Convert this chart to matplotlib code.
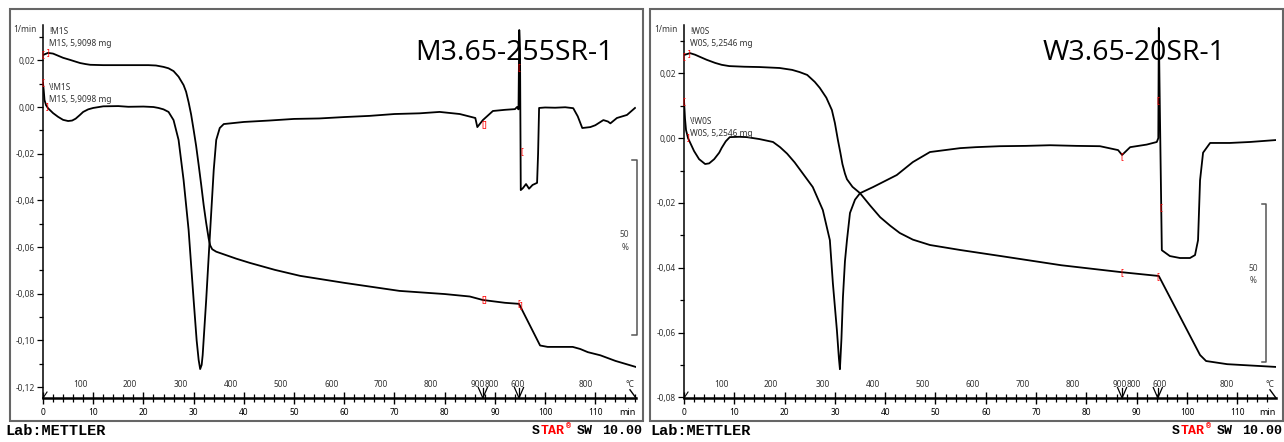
import numpy as np
import matplotlib

matplotlib.use("Agg")
import matplotlib.pyplot as plt
from matplotlib.patches import Rectangle
from matplotlib.ticker import MultipleLocator, FuncFormatter
from matplotlib.transforms import blended_transform_factory

W, H = 1284, 442

# ---------------- left sample: M3.65-255SR-1 ----------------
m_title = "M3.65-255SR-1"
m_name = "M1S"
m_mass = "5,9098 mg"

m_tg_time = [0, 1, 2, 3, 4, 5.4, 6.5, 7.4, 8.5, 9.4, 12, 21, 22.5, 24, 25, 26, 27,
             28, 28.5, 29, 29.5, 30, 30.5, 31, 31.5, 32, 32.5, 33, 33.3, 33.7,
             34.5, 36.3, 38.5, 41.2, 46.2, 51.2, 60, 71, 80, 85, 87.6, 92, 94.8,
             99, 100.5, 105.5, 107, 108.5, 111, 114, 118]
m_tg = [100, 100.6, 100.4, 99.8, 99.2, 98.6, 98.1, 97.7, 97.4, 97.2, 97.1, 97.1,
        97.0, 96.6, 96.2, 95.4, 93.8, 91.4, 89.5, 86.5, 83.0, 78.6, 74.0, 68.6,
        63.0, 57.1, 52.0, 47.5, 45.6, 44.5, 43.8, 42.9, 41.8, 40.6, 38.6, 36.9,
        34.9, 32.6, 31.7, 31.0, 30.0, 29.2, 28.9, 17.0, 16.6, 16.6, 16.0, 15.1,
        14.2, 12.6, 10.9]

m_dtg_time = [0, 0.15, 0.3, 0.6, 1, 2, 3, 4, 5, 5.8, 6.5, 7.3, 8, 9, 10, 12, 15,
              17, 20, 22, 23, 24, 25, 26, 27, 28, 29, 30, 30.6, 31, 31.3, 31.6,
              31.8, 32.5, 33.3, 34, 34.5, 35.2, 36, 40, 45, 50, 55, 60, 65, 70,
              75, 79, 83, 86.1, 86.5, 87.6, 89.6, 92, 94.0, 94.4, 94.7, 94.85,
              95.0, 95.15, 95.6, 96.2, 96.8, 97.5, 98.4, 98.6, 98.8, 100, 102,
              104, 105.6, 106.5, 107.4, 109, 110, 111.6, 112.5, 113, 114.3, 116.3,
              117.9]
m_dtg = [0.0103, 0.007, 0.003, 0.0008, -0.0005, -0.0026, -0.0042, -0.0055, -0.006,
         -0.0058, -0.005, -0.0035, -0.0021, -0.001, -0.0004, 0.0003, 0.0004,
         0.0001, 0.0002, 0.0, -0.0004, -0.001, -0.0021, -0.0056, -0.0141, -0.0313,
         -0.0527, -0.0827, -0.1, -0.1084, -0.1123, -0.1105, -0.1063, -0.0827,
         -0.0527, -0.027, -0.0141, -0.009, -0.0073, -0.0064, -0.0058, -0.0051,
         -0.0049, -0.0043, -0.0038, -0.003, -0.0027, -0.0021, -0.0030, -0.0047,
         -0.0086, -0.0056, -0.0017, -0.0012, -0.0009, 0.0, -0.001, 0.033, 0.025,
         -0.0356, -0.0347, -0.0330, -0.0350, -0.0334, -0.0325, -0.02, -0.0004,
         -0.0002, -0.0003, -0.0001, -0.0005, -0.004, -0.0090, -0.0086, -0.0078,
         -0.0056, -0.0062, -0.0070, -0.0047, -0.0034, -0.0004]

# red evaluation marks (time, value, glyph)
m_tg_marks = [(0, 100, "["), (1, 100.6, "]"), (87.6, 30.0, "["), (88.1, 30.0, "]"),
              (94.8, 28.9, "["), (95.3, 28.5, "]")]
m_dtg_marks = [(0, 0.0103, "["), (0.9, 0.0, "]"), (87.5, -0.0077, "["),
               (88.0, -0.0077, "]"), (94.7, 0.0167, "["), (95.3, -0.0193, "[")]

# ---------------- right sample: W3.65-20SR-1 ----------------
w_title = "W3.65-20SR-1"
w_name = "W0S"
w_mass = "5,2546 mg"

w_tg_time = [0, 1.2, 2.2, 3.2, 4.5, 6.2, 7.5, 9, 12, 15, 19, 21.5, 23, 24.5, 26,
             27, 28.3, 29.4, 30, 30.6, 31.1, 31.5, 32, 32.4, 33.5, 35, 37, 39, 41,
             42.9, 45.5, 48.9, 55, 63, 75, 87, 94.4, 102.6, 103.8, 108, 118]
w_tg = [100, 100.6, 100.1, 99.4, 98.5, 97.5, 96.9, 96.5, 96.3, 96.2, 95.9, 95.3,
        94.6, 93.7, 91.5, 89.6, 86.5, 82.6, 78.5, 73.1, 69.0, 65.5, 62.5, 60.7,
        58.3, 56.3, 52.4, 48.7, 46.0, 43.7, 41.6, 39.9, 38.3, 36.4, 33.5, 31.3,
        30.1, 5.1, 3.2, 2.2, 1.3]

w_dtg_time = [0, 0.2, 0.4, 0.8, 1.4, 2, 3, 4.2, 5, 6, 7, 7.5, 8.3, 9.1, 11, 12.5,
              15, 17.7, 19.1, 20.5, 22, 25.6, 27.6, 29.0, 29.6, 30.4, 30.8, 31.0,
              31.3, 31.6, 32.0, 32.4, 33.0, 34, 35.0, 37.6, 42.3, 45.5, 48.9, 54.9,
              58, 62.8, 68, 72.8, 78, 82.7, 86.3, 87.1, 88.7, 92, 94.0, 94.3, 94.4,
              94.6, 95.0, 96.6, 98.6, 100.6, 101.6, 102.2, 102.6, 103.2, 104.6,
              108.5, 112.5, 117.7]
w_dtg = [0.0117, 0.006, 0.0025, 0.0, -0.002, -0.004, -0.0065, -0.008, -0.0078,
         -0.0065, -0.0045, -0.003, -0.001, 0.0003, 0.0004, 0.0003, -0.0003,
         -0.0012, -0.0028, -0.0048, -0.0075, -0.0151, -0.0222, -0.0315, -0.0448,
         -0.0593, -0.068, -0.0713, -0.062, -0.0491, -0.038, -0.0315, -0.0231,
         -0.019, -0.0170, -0.0151, -0.0114, -0.0074, -0.0043, -0.0031, -0.0028,
         -0.0025, -0.0024, -0.0022, -0.0024, -0.0025, -0.0037, -0.0052, -0.0028,
         -0.0020, -0.0012, 0.0, 0.034, 0.01, -0.0346, -0.0364, -0.037, -0.037,
         -0.0361, -0.0315, -0.013, -0.0045, -0.0015, -0.0015, -0.0012, -0.0006]

w_tg_marks = [(0, 99.5, "["), (1, 100.6, "]"), (87.1, 31.3, "["), (94.2, 30.0, "[")]
w_dtg_marks = [(0, 0.0114, "["), (0.8, 0.0, "]"), (87.1, -0.0056, "["),
               (94.2, 0.0117, "["), (94.8, -0.0213, "[")]

# temperature labels along the time axis
temp_time = [7.4, 17.3, 27.5, 37.5, 47.4, 57.4, 67.3, 77.3, 86.6, 89.4, 94.5, 108.0]
temp_text = ["100", "200", "300", "400", "500", "600", "700", "800", "900", "800",
             "600", "800"]
min_ticks = list(range(0, 111, 10))

plt.rcParams["font.family"] = ["Noto Sans", "DejaVu Sans"]
fig = plt.figure(figsize=(W / 100, H / 100), dpi=100)


def fx(px):
    return px / W


def fy(py):
    return 1 - py / H


def comma_fmt(v, _pos):
    v = round(v, 4)
    if abs(v) < 1e-9:
        v = 0.0
    return f"{v:.2f}".replace(".", ",")


def draw_panel(left, right, xmax, ylim, tg_lim, tg_t, tg, dtg_t, dtg, tg_marks,
               dtg_marks, seg_times, bracket, name, mass, label_y, title, title_x):
    top, bot = 25, 398
    ax = fig.add_axes([fx(left), fy(bot), (right - left) / W, (bot - top) / H])
    ax.set_xlim(0, xmax)
    ax.set_ylim(*ylim)
    ax.patch.set_alpha(0)
    for s in ("top", "right"):
        ax.spines[s].set_visible(False)
    ax.spines["left"].set_linewidth(1.1)
    ax.spines["bottom"].set_linewidth(1.8)

    ax.yaxis.set_major_locator(MultipleLocator(0.02))
    ax.yaxis.set_minor_locator(MultipleLocator(0.01))
    ax.yaxis.set_major_formatter(FuncFormatter(comma_fmt))
    ax.tick_params(axis="y", which="major", direction="out", length=4, width=0.9,
                   labelsize=6, labelcolor="#333333", pad=2)
    ax.tick_params(axis="y", which="minor", direction="out", length=3, width=0.9)

    ax.set_xticks(min_ticks)
    ax.xaxis.set_minor_locator(MultipleLocator(2))
    ax.tick_params(axis="x", which="major", direction="inout", length=9, width=1,
                   labelsize=6, pad=3)
    ax.tick_params(axis="x", which="minor", direction="inout", length=6, width=0.9)
    for lab in ax.get_xticklabels():
        lab.set_fontweight("bold")

    ax.plot(dtg_t, dtg, color="black", lw=1.3, zorder=3)
    for t, v, g in dtg_marks:
        ax.text(t, v, g, color="red", fontsize=6, ha="center", va="center", zorder=4)

    xt = ax.get_xaxis_transform()
    for t, s in zip(temp_time, temp_text):
        ax.text(t, 0.035, s, transform=xt, fontsize=6, color="#333333",
                ha="center", va="center",
                fontweight="bold" if s == "600" and t > 90 else "normal")
    ax.text(xmax - 1.2, 0.035, "°C", transform=xt, fontsize=6, color="#333333",
            ha="center", va="center")
    ax.text(xmax - 1.8, -0.04, "min", transform=xt, fontsize=6.5,
            fontweight="bold", ha="center", va="center")
    for t in seg_times:
        ax.plot([t - 0.9, t, t + 0.9], [0.028, 0, 0.028], transform=xt,
                color="black", lw=0.9, clip_on=False)
        ax.plot([t, t], [0, 0.028], transform=xt, color="black", lw=0.9,
                clip_on=False)
    ax.plot([xmax - 1.2, xmax], [0.022, 0], transform=xt, color="black", lw=1,
            clip_on=False)
    ax.plot([0, 0.8], [0, 0.016], transform=xt, color="black", lw=0.8,
            clip_on=False)

    ax2 = ax.twinx()
    ax2.set_ylim(*tg_lim)
    ax2.set_axis_off()
    ax2.plot(tg_t, tg, color="black", lw=1.3, zorder=3)
    for t, v, g in tg_marks:
        ax2.text(t, v, g, color="red", fontsize=6, ha="center", va="center")

    bx, btick, btext, b_top, b_bot, t50, tpc = bracket
    bt = blended_transform_factory(ax2.transAxes, ax2.transData)
    ax2.plot([btick, bx, bx, btick], [b_top, b_top, b_bot, b_bot], transform=bt,
             color="#555555", lw=1.1, clip_on=False)
    ax2.text(btext, t50, "50", transform=bt, fontsize=6, color="#444444",
             ha="center", va="center")
    ax2.text(btext, tpc, "%", transform=bt, fontsize=6, color="#444444",
             ha="center", va="center")

    # labels in the plot area
    fig.text(fx(left - 6), fy(29), "1/min", fontsize=6, color="#333333",
             ha="right", va="center")
    lx = left + 6
    fig.text(fx(lx), fy(32), "!" + name, fontsize=6, color="#333333", va="center")
    fig.text(fx(lx), fy(43), f"{name}, {mass}", fontsize=6, color="#333333",
             va="center")
    fig.text(fx(lx), fy(label_y), "\\!" + name, fontsize=6, color="#333333",
             va="center")
    fig.text(fx(lx), fy(label_y + 11), f"{name}, {mass}", fontsize=6,
             color="#333333", va="center")
    fig.text(fx(title_x), fy(60), title, fontsize=20.5, family="Open Sans",
             va="baseline", ha="left")
    return ax


draw_panel(43, 636, 118.1, (-0.1247, 0.03515), (2.0, 108.57),
           m_tg_time, m_tg, m_dtg_time, m_dtg, m_tg_marks, m_dtg_marks,
           [87.6, 94.8], (1.0017, 0.9933, 0.981, 70, 20, 48.6, 45.1),
           m_name, m_mass, 88, m_title, 415)
draw_panel(684, 1276, 117.7, (-0.0802, 0.0349), (-8.5, 109.5),
           w_tg_time, w_tg, w_dtg_time, w_dtg, w_tg_marks, w_dtg_marks,
           [87.1, 94.2], (0.983, 0.976, 0.961, 53, 3, 32.6, 28.8),
           w_name, w_mass, 122, w_title, 1043)

# panel frames
for x0, x1 in ((10, 643), (650, 1283)):
    fig.add_artist(Rectangle((fx(x0), fy(421)), (x1 - x0) / W, (421 - 9) / H,
                             transform=fig.transFigure, fill=False,
                             edgecolor="#666666", lw=1.5))

# footer
mono = ["Liberation Mono", "DejaVu Sans Mono"]
for off in (0, 645):
    fig.text(fx(5 + off), fy(431), "Lab:METTLER", family=mono, fontweight="bold",
             fontsize=11, va="center")
for off in (0, 640):
    fig.text(fx(532 + off), fy(431), "S", family=mono, fontweight="bold",
             fontsize=9.5, va="center")
    fig.text(fx(541 + off), fy(431), "TAR", family=mono, fontweight="bold",
             fontsize=9.5, va="center", color="red")
    fig.text(fx(566 + off), fy(427), "®", family=mono, fontweight="bold",
             fontsize=6, va="center", color="red")
    fig.text(fx(577 + off), fy(431), "SW", family=mono, fontweight="bold",
             fontsize=9.5, va="center")
    fig.text(fx(602 + off), fy(431), "10.00", family=mono, fontweight="bold",
             fontsize=9.5, va="center")

fig.savefig("out.png", dpi=100)
